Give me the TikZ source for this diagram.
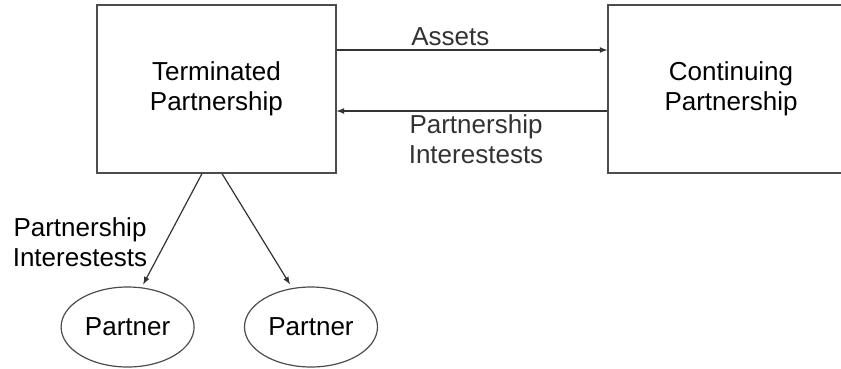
\documentclass[tikz,border=0pt]{standalone}
\usepackage{fontspec}
\setmainfont{Liberation Sans}
\usetikzlibrary{shapes.geometric}

\begin{document}
\begin{tikzpicture}[
        boxnode/.style={rectangle, draw=black!70, line width=0.3mm, align=center},
        partnernode/.style={ellipse, draw=black!70, line width=0.3mm, inner sep=0pt, minimum width=3.325cm, minimum height=2cm},
        labelnode/.style={align=center, inner sep=2.5pt},
        every node/.style={font=\fontsize{18.5}{21.3}\selectfont}]
        \useasboundingbox (0,0) rectangle (21.025,9.2);
        \clip (0,0) rectangle (21.025,9.2);
        \node[boxnode, minimum width=5.975cm, minimum height=4.2cm] at (5.41,6.975) (TP) {Terminated\\Partnership};
        \node[boxnode, minimum width=6.15cm, minimum height=4.2cm] at (18.275,6.975) (CP) {Continuing\\Partnership};
        \node[partnernode] at (3.19,1.025) (P1) {Partner};
        \node[partnernode] at (7.775,1.025) (P2) {Partner};
        \node[labelnode] at (2.0,3.15) (PI) {Partnership\\Interestests};
        % box to box
        \draw[line width=0.3mm,black!80,-latex] ([yshift=9.75mm]TP.east) -- node[labelnode, above, pos=0.42] {Assets} ([yshift=9.75mm]CP.west);
        \draw[line width=0.3mm,black!80,-latex] ([yshift=-5.5mm]CP.west) -- node[labelnode, below, pos=0.485] {Partnership\\Interestests} ([yshift=-5.5mm]TP.east);
        % down to partners
        \draw[line width=0.3mm,black!80,-latex] ([xshift=-3.6mm]TP.south) -- ([xshift=3.9mm,yshift=0.5mm]P1.north);
        \draw[line width=0.3mm,black!80,-latex] ([xshift=1.4mm]TP.south) -- ([xshift=-5.25mm,yshift=0.5mm]P2.north);
\end{tikzpicture}
\end{document}
